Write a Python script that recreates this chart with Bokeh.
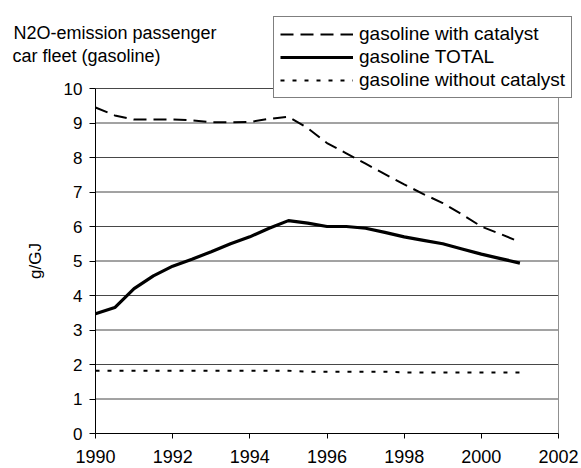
from bokeh.plotting import figure
from bokeh.models import Legend, LegendItem, Label, FixedTicker, LinearAxis
from bokeh.embed import file_html
from bokeh.resources import INLINE

# ---- data ----
years = [1990.0, 1990.5, 1991.0, 1991.5, 1992.0, 1992.5, 1993.0, 1993.5,
         1994.0, 1994.5, 1995.0, 1995.5, 1996.0, 1996.5, 1997.0, 1997.5,
         1998.0, 1998.5, 1999.0, 1999.5, 2000.0, 2000.5, 2001.0]
with_catalyst = [9.45, 9.22, 9.10, 9.10, 9.10, 9.08, 9.02, 9.02,
                 9.03, 9.12, 9.18, 8.85, 8.42, 8.12, 7.82, 7.52,
                 7.22, 6.94, 6.68, 6.35, 6.00, 5.78, 5.55]
total = [3.47, 3.65, 4.20, 4.57, 4.85, 5.05, 5.27, 5.50,
         5.70, 5.95, 6.17, 6.10, 6.00, 6.00, 5.95, 5.83,
         5.70, 5.60, 5.50, 5.35, 5.20, 5.07, 4.94]
without_catalyst = [1.82, 1.82, 1.82, 1.82, 1.82, 1.82, 1.82, 1.82,
                    1.82, 1.82, 1.82, 1.79, 1.79, 1.79, 1.79, 1.79,
                    1.77, 1.77, 1.77, 1.77, 1.77, 1.77, 1.77]
x_ticks = [1990, 1992, 1994, 1996, 1998, 2000, 2002]
y_ticks = [0, 1, 2, 3, 4, 5, 6, 7, 8, 9, 10]
series_names = ["gasoline with catalyst", "gasoline TOTAL", "gasoline without catalyst"]
title_lines = ["N2O-emission passenger", " car fleet (gasoline)"]

FONT = "Liberation Sans"

# ---- layout (pixels on the canvas) ----
W, H = 581, 468
FL, FR, FT, FB = 95, 558, 88, 433          # axes box edges
X0, X1 = x_ticks[0], x_ticks[-1]
Y0, Y1 = y_ticks[0], y_ticks[-1]
ux = (X1 - X0) / (FR - FL)
uy = (Y1 - Y0) / (FB - FT)


def px(x):
    return X0 + (x - FL) * ux


def py(y):
    return Y0 + (FB - y) * uy


p = figure(width=W, height=H, title=None,
           x_range=(px(0), px(W)), y_range=(py(H), py(0)),
           x_axis_type=None, y_axis_type=None,
           output_backend="svg", toolbar_location=None, min_border=0)
p.background_fill_color = "white"
p.border_fill_color = "white"
p.outline_line_color = None

# axes placed at the data origin
xaxis = LinearAxis(ticker=FixedTicker(ticks=x_ticks), fixed_location=Y0, bounds=(X0, X1))
yaxis = LinearAxis(ticker=FixedTicker(ticks=y_ticks), fixed_location=X0, bounds=(Y0, Y1))
for ax in (xaxis, yaxis):
    ax.axis_line_color = "black"
    ax.axis_line_width = 1
    ax.major_tick_line_color = "black"
    ax.major_tick_in = 0
    ax.minor_tick_line_color = None
    ax.major_label_text_font = FONT
    ax.major_label_text_color = "black"
xaxis.major_tick_out = 5
yaxis.major_tick_out = 6
xaxis.major_label_text_font_size = "18px"
yaxis.major_label_text_font_size = "17px"
xaxis.major_label_standoff = 11
yaxis.major_label_standoff = 7
yaxis.axis_label = "g/GJ"
yaxis.axis_label_text_font = FONT
yaxis.axis_label_text_font_size = "17px"
yaxis.axis_label_text_font_style = "normal"
yaxis.axis_label_text_color = "black"
yaxis.axis_label_standoff = 16
p.add_layout(xaxis, "below")
p.add_layout(yaxis, "left")

# horizontal grid lines and right frame edge
p.segment(x0=X0, x1=X1, y0=y_ticks[1:], y1=y_ticks[1:], line_color="#474747", line_width=1)
p.segment(x0=X1, x1=X1, y0=Y0, y1=Y1, line_color="#909090", line_width=1)

r1 = p.line(years, with_catalyst, line_color="black", line_width=2, line_dash="13 7")
r2 = p.line(years, total, line_color="black", line_width=3.2)
r3 = p.line(years, without_catalyst, line_color="black", line_width=2, line_dash="4 8")

legend = Legend(items=[LegendItem(label=series_names[0], renderers=[r1]),
                       LegendItem(label=series_names[1], renderers=[r2]),
                       LegendItem(label=series_names[2], renderers=[r3])],
                location=(273, H - 98))
legend.border_line_color = "black"
legend.border_line_width = 1
legend.background_fill_color = "white"
legend.background_fill_alpha = 1
legend.label_text_font = FONT
legend.label_text_font_size = "19px"
legend.label_text_color = "black"
legend.glyph_width = 73
legend.glyph_height = 20
legend.label_standoff = 6
legend.spacing = 1
legend.padding = 6
legend.margin = 0
p.add_layout(legend, "center")

title_x = [13, 12]
title_mid = [32, 55]
for t, tx, ty in zip(title_lines, title_x, title_mid):
    p.add_layout(Label(x=px(tx), y=py(ty), text=t, text_font=FONT, text_font_size="18px",
                       text_color="black", text_baseline="middle", text_align="left"))

open("out.html", "w").write(file_html(p, INLINE))
